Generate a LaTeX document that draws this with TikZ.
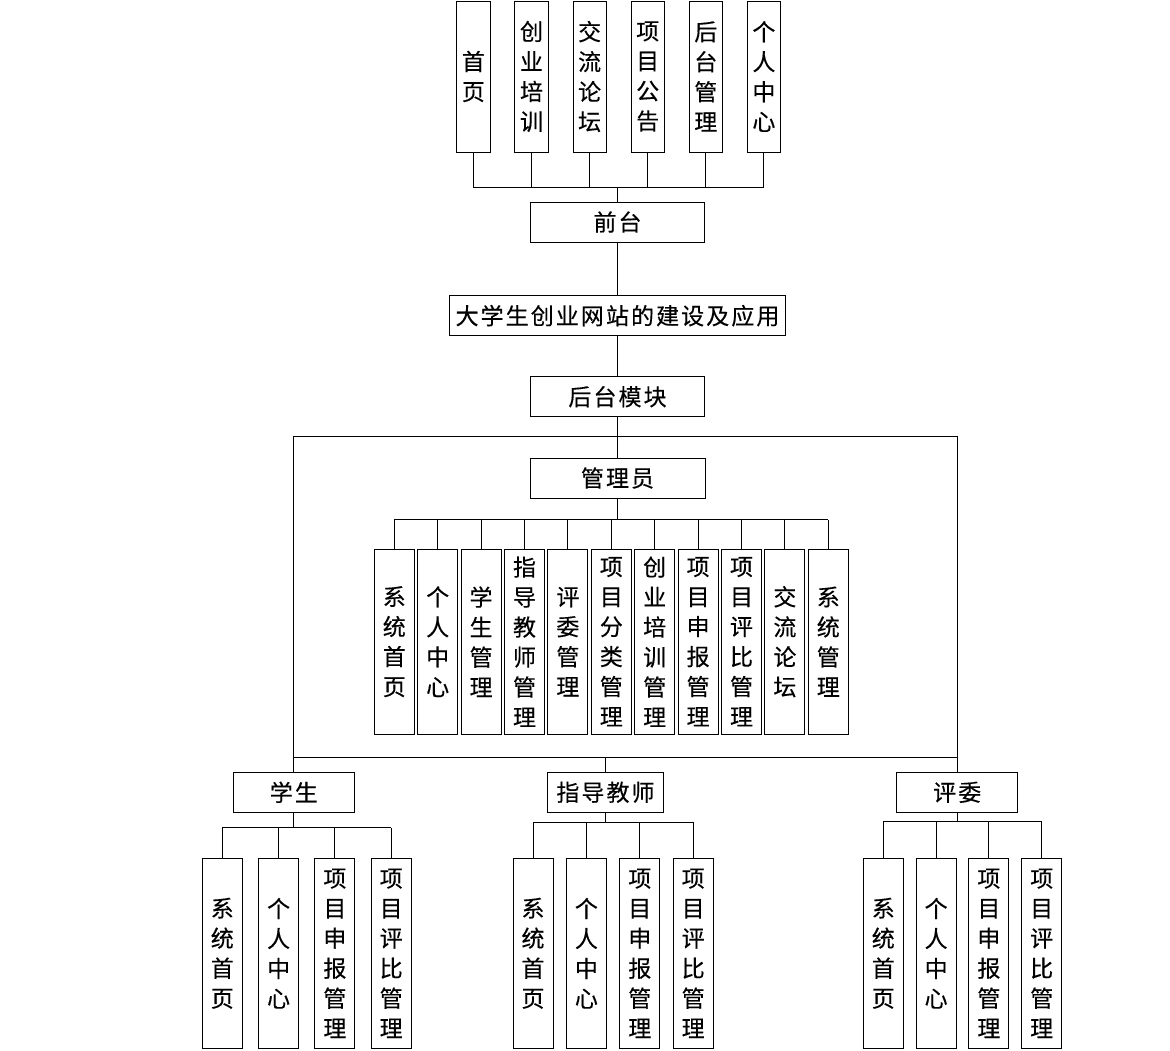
\documentclass[tikz,border=0pt]{standalone}
\usepackage{fontspec}
\setmainfont[FakeBold=0.3]{Noto Sans CJK SC}
\newfontfamily\hcjk[LetterSpace=9,FakeBold=0.3]{Noto Sans CJK SC}
\usetikzlibrary{calc}

\tikzset{
  hbox/.style={
    draw,
    rectangle,
    line width=0.9pt,
    inner sep=0pt,
    minimum height=40pt,
    font=\hcjk\fontsize{23}{30}\selectfont
  },
  vbox/.style={
    draw,
    rectangle,
    line width=0.9pt,
    inner sep=0pt,
    minimum width=40pt,
    align=center,
    font=\fontsize{23}{30}\selectfont
  },
  link/.style={line width=0.9pt}
}

\begin{document}
\begin{tikzpicture}[x=1pt,y=-1pt]
    \path[use as bounding box, fill=white] (0,0) rectangle (1170,1051);

    % front part
    \foreach \txt [count=\i from 0] in {{首\\页},{创\\业\\培\\训},{交\\流\\论\\坛},{项\\目\\公\\告},{后\\台\\管\\理},{个\\人\\中\\心}}{
      \node[vbox, minimum width=33.3pt, minimum height=151pt] (f\i) at ({473.4+58.1*\i},76.5) {\txt};
    }
    \node[hbox, minimum width=174pt] (front) at (617.5,222) {前台};
    \node[hbox, minimum width=336.3pt] (site) at (617.5,315.7) {大学生创业网站的建设及应用};
    \node[hbox, minimum width=174.3pt] (back) at (617.5,396.7) {后台模块};

    \coordinate (fbus) at (0,187.3);
    \draw[link] (f0.south |- fbus) -- (f5.south |- fbus);
    \foreach \i in {0,...,5}{
      \draw[link] (f\i.south) -- (f\i.south |- fbus);
    }
    \draw[link] (front.north) -- (front.north |- fbus);
    \draw[link] (front.south) -- (site.north);
    \draw[link] (site.south) -- (back.north);

    % admin part
    \node[hbox, minimum width=175pt] (admin) at (617.5,478) {管理员};
    \draw[link] (back.south) -- (admin.north);
    \foreach \txt [count=\i from 0] in {{系\\统\\首\\页},{个\\人\\中\\心},{学\\生\\管\\理},{指\\导\\教\\师\\管\\理},{评\\委\\管\\理},{项\\目\\分\\类\\管\\理},{创\\业\\培\\训\\管\\理},{项\\目\\申\\报\\管\\理},{项\\目\\评\\比\\管\\理},{交\\流\\论\\坛},{系\\统\\管\\理}}{
      \node[vbox, minimum height=184.7pt] (a\i) at ({394.3+43.4*\i},641.7) {\txt};
    }
    \coordinate (abus) at (0,519.5);
    \draw[link] (a0.north |- abus) -- (a10.north |- abus);
    \foreach \i in {0,...,10}{
      \draw[link] (a\i.north) -- (a\i.north |- abus);
    }
    \draw[link] (admin.south) -- (admin.south |- abus);

    % users
    \node[hbox, minimum width=121pt] (stu) at (293.8,792.3) {学生};
    \node[hbox, minimum width=115.6pt] (tea) at (605.5,792.3) {指导教师};
    \node[hbox, minimum width=121pt] (jud) at (957.2,792.3) {评委};

    \coordinate (frameA) at (0,436);
    \coordinate (frameB) at (0,757);
    \draw[link] (stu.north |- frameA) -- (jud.north |- frameA);
    \draw[link] (stu.north |- frameB) -- (jud.north |- frameB);
    \draw[link] (stu.north) -- (stu.north |- frameA);
    \draw[link] (jud.north) -- (jud.north |- frameA);
    \draw[link] (tea.north) -- (tea.north |- frameB);

    \foreach \g/\p/\x/\d/\b in {s/stu/222.3/56.3/827.7, t/tea/533/53.4/822.3, j/jud/883.3/52.8/821.7}{
      \foreach \txt [count=\i from 0] in {{系\\统\\首\\页},{个\\人\\中\\心},{项\\目\\申\\报\\管\\理},{项\\目\\评\\比\\管\\理}}{
        \node[vbox, minimum height=190pt] (\g\i) at ({\x+\d*\i},953.3) {\txt};
      }
      \coordinate (\g bus) at (0,\b);
      \draw[link] (\g0.north |- \g bus) -- (\g3.north |- \g bus);
      \foreach \i in {0,...,3}{
        \draw[link] (\g\i.north) -- (\g\i.north |- \g bus);
      }
      \draw[link] (\p.south) -- (\p.south |- \g bus);
    }
\end{tikzpicture}
\end{document}
